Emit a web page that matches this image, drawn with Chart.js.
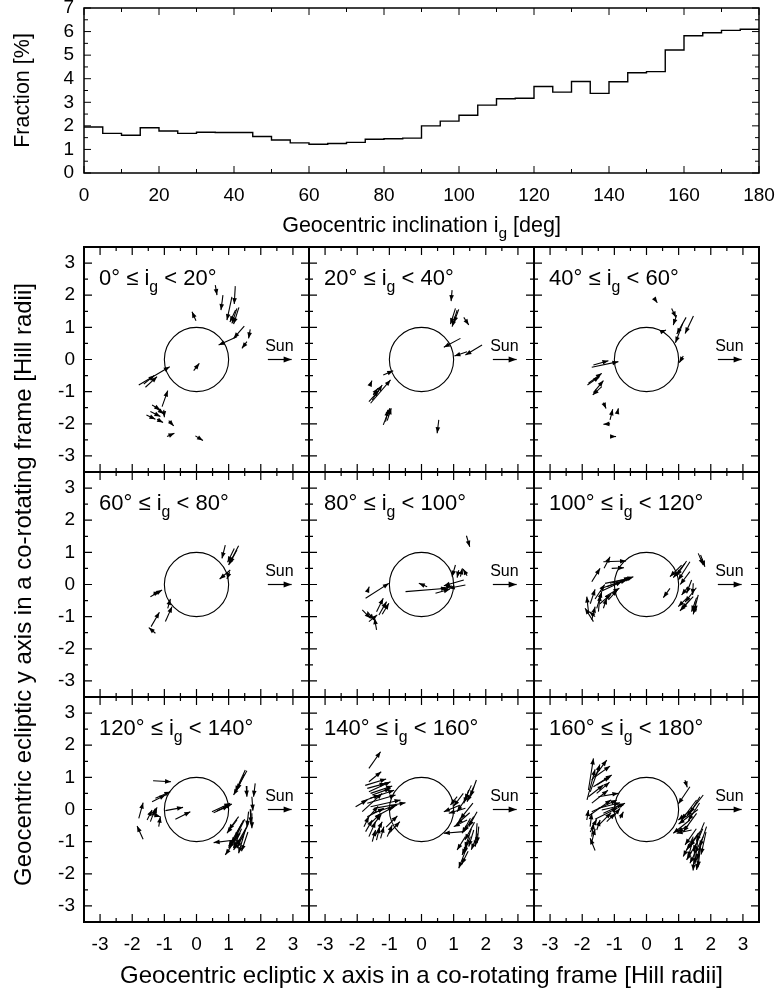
<!DOCTYPE html>
<html><head><meta charset="utf-8">
<script src="https://cdn.jsdelivr.net/npm/chart.js@4.4.1/dist/chart.umd.min.js"></script>
<style>
html,body{margin:0;padding:0;background:#fff;}
#wrap{position:relative;width:783px;height:995px;background:#fff;overflow:hidden;}
#wrap canvas{position:absolute;left:0;top:0;}
</style></head><body><div id="wrap"></div>
<script>
const FONT = '"Liberation Sans", Arial, Helvetica, sans-serif';

// ---------- top histogram ----------
const binStart = [0,5,10,15,20,25,30,35,40,45,50,55,60,65,70,75,80,85,90,95,100,105,110,115,120,125,130,135,140,145,150,155,160,165,170,175];
const binEnd = 180;
const fractionPct = [1.95,1.68,1.60,1.92,1.78,1.68,1.73,1.72,1.72,1.55,1.40,1.28,1.22,1.25,1.30,1.43,1.45,1.48,2.00,2.20,2.45,2.88,3.15,3.17,3.67,3.43,3.88,3.38,3.87,4.25,4.30,5.22,5.82,5.95,6.05,6.10];
const inclTicks = [0,20,40,60,80,100,120,140,160,180];
const inclMinor = [10,30,50,70,90,110,130,150,170];
const fracTicks = [0,1,2,3,4,5,6,7];
const fracMinor = [0.5,1.5,2.5,3.5,4.5,5.5,6.5];

// ---------- 3x3 panels ----------
const hillTicks = [-3,-2,-1,0,1,2,3];
const hillMinor = [-2.5,-1.5,-0.5,0.5,1.5,2.5];
const panelRanges = [[0,20],[20,40],[40,60],[60,80],[80,100],[100,120],[120,140],[140,160],[160,180]];
const sunArrow = [2.22,0,2.96,0];
// arrows: [x_tail, y_tail, x_head, y_head] in Hill radii
const arrows0to20 = [[0.585,2.314,0.637,2.003],[1.206,2.283,1.175,1.724],[0.823,2.003,0.761,1.537],[1.102,1.951,0.947,1.227],[1.258,1.589,1.102,1.123],[1.320,1.620,1.154,1.102],[1.216,1.537,1.040,1.165],[-0.016,1.206,-0.140,1.486],[1.486,1.040,1.154,0.657],[1.672,0.937,1.620,0.657],[1.568,0.554,1.413,0.347],[1.258,0.709,0.688,0.450],[-0.088,-0.347,0.088,-0.119],[-1.796,-0.792,-0.833,-0.223],[-1.589,-0.864,-1.227,-0.533],[-1.641,-0.761,-1.309,-0.492],[-1.071,-1.465,-0.895,-0.968],[-1.382,-1.413,-1.123,-1.568],[-1.558,-1.724,-1.278,-1.858],[-1.434,-1.620,-1.123,-1.775],[-1.227,-1.858,-1.040,-1.962],[-1.309,-1.465,-1.019,-1.693],[-0.864,-1.900,-0.709,-2.065],[-1.019,-1.568,-0.999,-1.796],[-0.916,-2.397,-0.688,-2.293],[-0.036,-2.376,0.202,-2.521]];
const arrows20to40 = [[0.952,2.159,0.921,1.817],[1.108,1.537,0.952,1.020],[1.056,1.589,0.901,1.102],[1.159,1.558,1.004,1.144],[1.315,1.310,1.470,1.071],[1.211,0.657,0.694,0.378],[1.884,0.450,1.366,0.140],[1.418,0.243,1.025,0.109],[-1.190,-0.481,-0.880,-0.347],[-1.584,-0.761,-1.542,-0.657],[-1.584,-1.361,-0.963,-0.637],[-1.532,-1.258,-1.222,-0.792],[-1.636,-1.310,-1.325,-0.968],[-1.501,-1.102,-1.356,-0.895],[-1.190,-2.034,-0.983,-1.517],[-1.118,-1.930,-1.046,-1.568],[-1.066,-1.900,-0.942,-1.517],[0.538,-1.879,0.487,-2.293]];
const arrows40to60 = [[0.264,1.869,0.336,1.765],[0.782,1.589,0.916,1.310],[0.937,1.382,0.833,1.071],[1.232,1.310,0.942,0.792],[1.460,1.351,1.201,0.812],[1.128,1.123,0.900,0.523],[0.471,0.864,0.606,0.916],[1.144,0.109,1.020,-0.098],[-1.703,-0.243,-0.875,-0.067],[-1.651,-0.171,-1.185,-0.036],[-1.806,-0.740,-1.392,-0.430],[-1.837,-0.792,-1.465,-0.533],[-1.651,-1.030,-1.340,-0.657],[-1.392,-0.844,-1.672,-1.102],[-1.340,-1.341,-1.258,-1.527],[-1.134,-1.879,-1.051,-1.548],[-0.906,-1.651,-0.875,-1.517],[-1.134,-2.003,-1.341,-2.013],[-1.082,-2.397,-0.947,-2.397]];
const arrows60to80 = [[0.895,1.227,0.792,0.812],[1.310,1.206,0.999,0.605],[1.258,1.071,1.030,0.657],[1.175,1.123,0.968,0.689],[1.051,0.450,0.720,0.171],[1.030,0.399,0.947,0.171],[-1.434,-0.378,-1.071,-0.171],[-1.351,-0.305,-1.144,-0.223],[-0.895,-0.740,-0.812,-0.450],[-0.968,-1.154,-0.761,-0.688],[-1.413,-1.310,-1.154,-0.864],[-1.278,-1.517,-1.485,-1.341]];
const arrows80to100 = [[1.398,1.517,1.501,1.175],[1.056,0.606,0.952,0.243],[1.159,0.450,1.108,0.212],[1.211,0.243,1.273,0.502],[1.418,0.274,1.294,0.481],[-0.497,-0.223,0.797,-0.119],[0.176,-0.067,-0.083,0.036],[0.435,-0.274,0.880,-0.150],[0.590,-0.119,0.952,-0.047],[1.315,0.140,0.694,-0.036],[1.366,-0.016,0.849,-0.119],[-1.739,-0.430,-1.015,0.036],[-1.687,-0.223,-1.625,-0.067],[-1.398,-0.844,-1.190,-0.430],[-1.325,-0.947,-1.087,-0.533],[-1.222,-0.926,-1.015,-0.585],[-1.843,-0.792,-1.584,-1.051],[-1.687,-0.844,-1.480,-1.102],[-1.398,-1.413,-1.460,-1.051],[-1.636,-1.154,-1.377,-0.947]];
const arrows100to120 = [[1.610,0.968,1.765,0.606],[1.682,0.916,1.817,0.554],[1.247,0.730,0.937,0.274],[1.196,0.657,0.833,0.212],[1.351,0.709,0.989,0.140],[1.092,0.606,0.730,0.243],[0.730,-0.119,0.523,-0.409],[1.403,0.140,1.247,-0.274],[1.299,-0.067,1.092,-0.326],[1.454,0.036,1.434,-0.326],[1.247,-0.430,0.989,-0.688],[1.454,-0.378,1.092,-0.761],[1.351,-0.481,1.040,-0.823],[1.610,-0.326,1.454,-0.926],[1.558,-0.409,1.403,-0.844],[1.506,-0.533,1.537,-0.844],[-1.341,0.709,-0.637,0.730],[-1.320,0.502,-1.134,0.864],[-1.082,0.502,-0.699,0.523],[-1.703,0.088,-1.444,0.502],[-1.392,-0.119,-0.409,0.243],[-1.289,0.036,-0.512,0.192],[-1.237,-0.067,-0.616,0.140],[-1.444,-0.223,-0.771,0.088],[-1.134,0.036,-0.461,0.212],[-1.289,-0.378,-0.844,-0.119],[-1.185,-0.481,-0.906,-0.171],[-1.341,-0.740,-1.237,-0.430],[-1.806,-0.844,-1.858,-0.378],[-1.651,-1.154,-1.910,-0.740],[-1.599,-0.999,-1.775,-0.844],[-1.548,-0.740,-1.392,-0.223],[-1.496,-0.844,-1.444,-0.326],[-1.703,-1.102,-1.599,-0.689],[-1.750,-0.600,-1.600,-0.150],[-1.600,-0.450,-1.300,0.000],[-1.450,-0.600,-1.100,-0.300],[1.350,0.400,1.050,0.000],[1.550,-0.100,1.200,-0.550]];
const arrows120to140 = [[-1.351,0.896,-0.792,0.864],[-1.278,0.347,-0.813,0.554],[-1.382,0.243,-0.968,0.450],[-0.968,-0.036,-0.419,0.067],[-0.657,-0.305,-0.192,-0.067],[-1.796,-0.274,-1.661,0.212],[-1.661,-0.926,-1.848,-0.512],[-1.537,-0.326,-1.382,-0.016],[-1.434,-0.378,-1.278,0.036],[-1.330,-0.171,-1.227,0.067],[-1.175,-0.533,-1.123,-0.223],[-1.485,-0.119,-1.123,-0.223],[0.481,-0.067,1.051,0.192],[0.533,-0.098,0.999,0.109],[0.637,-0.036,1.102,0.171],[1.568,1.206,1.154,0.450],[1.517,1.227,1.206,0.554],[1.486,1.102,1.258,0.606],[1.827,0.812,1.775,0.398],[1.548,0.730,1.568,0.398],[1.723,0.398,1.755,-0.036],[1.672,0.005,1.692,-0.430],[1.620,-0.067,1.568,-0.533],[1.723,-0.119,1.723,-0.585],[1.310,-0.223,0.999,-0.637],[1.258,-0.326,0.947,-0.740],[1.465,-0.326,1.102,-1.051],[1.413,-0.430,0.999,-1.154],[1.620,-0.430,1.258,-1.206],[1.568,-0.533,1.154,-1.258],[1.361,-0.740,0.895,-1.413],[1.517,-0.637,1.310,-1.361],[1.206,-0.947,0.533,-1.030],[1.500,-0.300,1.200,-0.900],[1.400,-0.600,1.150,-1.200],[1.600,-0.700,1.400,-1.300],[1.300,-0.800,1.000,-1.200],[1.450,-0.850,1.200,-1.100]];
const arrows140to160 = [[-1.636,1.278,-1.273,1.796],[-1.636,0.864,-1.253,1.175],[-1.636,0.554,-0.963,0.864],[-1.584,0.502,-0.911,0.730],[-1.687,0.657,-1.118,0.813],[-1.532,0.450,-0.963,0.657],[-2.050,0.088,-1.687,0.295],[-1.843,-0.067,-1.222,0.502],[-1.687,0.192,-0.807,0.450],[-1.584,0.088,-0.652,0.295],[-1.480,0.036,-0.497,0.212],[-1.532,-0.119,-0.756,0.140],[-1.429,-0.223,-0.859,0.088],[-1.687,-0.223,-1.170,0.036],[-1.739,-0.689,-1.532,-0.326],[-1.636,-0.844,-1.429,-0.378],[-1.791,-0.533,-1.636,-0.223],[-1.429,-0.792,-1.222,-0.378],[-1.532,-0.999,-1.429,-0.637],[-1.273,-0.896,-1.170,-0.533],[-1.066,-0.844,-0.911,-0.481],[-1.014,-0.740,-0.673,-0.378],[-1.584,-0.430,-1.273,-0.119],[-1.750,0.750,-1.100,0.950],[-1.600,0.350,-0.850,0.600],[-1.750,-0.350,-1.350,0.100],[-1.550,-0.550,-1.250,-0.150],[-1.400,-0.950,-1.300,-0.550],[-1.100,-0.550,-0.750,-0.200],[-1.850,0.250,-1.300,0.450],[1.708,0.916,1.522,0.398],[1.625,0.709,1.418,0.243],[1.470,0.606,1.315,0.192],[1.108,0.398,0.901,0.140],[1.418,0.398,1.108,-0.067],[1.211,0.140,0.694,-0.067],[1.366,0.036,0.849,-0.119],[1.729,-0.067,1.470,-0.533],[1.625,-0.223,1.315,-0.689],[1.522,-0.274,1.263,-0.740],[1.418,-0.326,1.004,-0.533],[1.315,-0.689,0.694,-0.740],[1.625,-0.637,1.470,-1.154],[1.729,-0.430,1.677,-1.154],[1.781,-0.533,1.729,-1.051],[1.522,-0.844,1.315,-1.361],[1.470,-0.947,1.263,-1.413],[1.418,-1.154,1.159,-1.827],[1.366,-0.844,1.108,-1.258],[1.550,0.750,1.350,0.300],[1.300,0.500,1.000,0.100],[1.600,0.200,1.200,-0.300],[1.500,-0.100,1.100,-0.450],[1.650,-0.400,1.350,-0.950],[1.550,-0.600,1.350,-1.200],[1.750,-0.750,1.550,-1.250],[1.450,-1.300,1.250,-1.700]];
const arrows160to180 = [[-1.806,0.606,-1.651,1.589],[-1.703,0.916,-1.237,1.537],[-1.599,1.020,-1.134,1.351],[-1.651,0.709,-1.082,1.071],[-1.548,0.761,-1.134,1.020],[-1.806,0.398,-1.341,0.761],[-1.496,0.398,-0.875,0.502],[-1.703,-0.067,-0.926,0.295],[-1.496,0.036,-0.823,0.212],[-1.392,-0.016,-0.719,0.140],[-1.341,-0.119,-0.668,0.192],[-1.858,-0.326,-1.806,-0.016],[-1.754,-0.533,-1.703,-0.119],[-1.599,-1.278,-1.754,-0.896],[-1.703,-0.844,-1.651,-0.430],[-1.548,-0.637,-1.444,-0.326],[-1.030,-0.223,-0.823,0.036],[-0.823,-0.274,-0.719,-0.067],[-1.237,-0.378,-0.978,-0.119],[-1.850,0.300,-1.600,1.250],[-1.750,0.550,-1.450,1.400],[-1.550,0.500,-1.150,0.850],[-1.700,0.200,-1.200,0.600],[-1.800,-0.200,-1.100,0.300],[-1.600,-0.300,-0.900,0.050],[-1.500,-0.500,-1.100,-0.100],[-1.750,-0.700,-1.550,-0.300],[-1.700,-1.000,-1.600,-0.600],[1.351,0.709,0.989,0.171],[1.196,0.916,1.268,0.689],[1.765,0.450,1.247,-0.223],[1.661,0.398,1.351,-0.119],[1.558,0.295,1.092,-0.326],[1.454,0.036,0.989,-0.326],[1.351,-0.326,0.833,-0.740],[1.558,-0.119,1.144,-0.689],[1.403,-0.637,0.937,-0.740],[1.661,-0.689,1.351,-1.154],[1.610,-0.740,1.247,-1.258],[1.454,-0.844,1.144,-1.465],[1.765,-0.844,1.506,-1.361],[1.868,-0.533,1.661,-1.154],[1.558,-1.051,1.247,-1.568],[1.713,-0.947,1.558,-1.568],[1.661,-1.154,1.558,-1.879],[1.506,-1.361,1.351,-1.672],[1.800,-0.400,1.550,-1.000],[1.750,-0.600,1.450,-1.300],[1.600,-0.900,1.500,-1.700],[1.700,-1.000,1.600,-1.800],[1.450,-0.900,1.300,-1.500],[1.550,-0.600,1.200,-1.100],[1.850,-0.700,1.700,-1.400],[1.500,-1.200,1.450,-1.900],[1.650,0.200,1.300,-0.350],[1.600,0.000,1.000,-0.450],[1.300,-0.500,0.950,-0.700]];
const panelArrows = [arrows0to20,arrows20to40,arrows40to60,arrows60to80,arrows80to100,arrows100to120,arrows120to140,arrows140to160,arrows160to180];

// ---------- layout ----------
const W = 783, H = 995;
const topBox = {l:84, r:759, t:8, b:173};
const colL = [84,309,534], colW = 225;
const rowT = [247,472,697], rowH = 225;
const AX = 40;
const TICKFONT = 19;

const wrap = document.getElementById('wrap');
function newCanvas(){const c=document.createElement('canvas');c.width=W;c.height=H;c.style.width=W+'px';c.style.height=H+'px';wrap.appendChild(c);return c;}

function axis(pos,min,max,values,show,pad){
  return {
    type:'linear', position:pos, min:min, max:max,
    grid:{display:false, drawTicks:false}, border:{display:false},
    ticks:{display:show, color:'#000', font:{family:FONT,size:TICKFONT}, padding:pad, maxRotation:0, autoSkip:false, callback:v=>String(v)},
    afterBuildTicks:s=>{ s.ticks = values.map(v=>({value:v})); },
    afterFit:s=>{ if(pos==='left') s.width=AX; else s.height=AX; s.paddingLeft=0; s.paddingRight=0; s.paddingTop=0; s.paddingBottom=0; }
  };
}

function drawRich(ctx, parts, x, y, size, align){
  const sub = size*0.72;
  let w = 0;
  parts.forEach(p=>{ ctx.font = (p[1]?sub:size)+'px '+FONT; w += ctx.measureText(p[0]).width; });
  let cx = align==='center' ? x - w/2 : (align==='right' ? x - w : x);
  ctx.textAlign='left'; ctx.textBaseline='alphabetic';
  parts.forEach(p=>{ ctx.font=(p[1]?sub:size)+'px '+FONT; ctx.fillText(p[0], cx, y + (p[1]? size*0.3:0)); cx += ctx.measureText(p[0]).width; });
}

function arrowHead(ctx,x0,y0,x1,y1,len,hw){
  const dx=x1-x0, dy=y1-y0, L=Math.hypot(dx,dy); if(L<0.01) return;
  const ux=dx/L, uy=dy/L;
  const bx=x1-ux*len, by=y1-uy*len;
  ctx.beginPath(); ctx.moveTo(x1,y1); ctx.lineTo(bx-uy*hw, by+ux*hw); ctx.lineTo(bx+uy*hw, by-ux*hw); ctx.closePath(); ctx.fill();
}

const deco = {
  id:'deco',
  afterDatasetsDraw(chart, args, o){
    const ctx=chart.ctx, a=chart.chartArea, xs=chart.scales.x, ys=chart.scales.y;
    ctx.save();
    ctx.strokeStyle='#000'; ctx.fillStyle='#000';
    if(o.circle){
      const cx=xs.getPixelForValue(0), cy=ys.getPixelForValue(0);
      const rx=xs.getPixelForValue(o.circle)-cx, ry=cy-ys.getPixelForValue(o.circle);
      ctx.beginPath(); ctx.ellipse(cx,cy,rx,ry,0,0,2*Math.PI); ctx.lineWidth=1.1; ctx.stroke();
    }
    chart.data.datasets.forEach((ds,i)=>{
      if(!ds.head) return;
      const m=chart.getDatasetMeta(i); const p0=m.data[0], p1=m.data[1];
      arrowHead(ctx,p0.x,p0.y,p1.x,p1.y,ds.head[0],ds.head[1]);
    });
    ctx.lineWidth=o.frameWidth;
    ctx.strokeRect(a.left,a.top,a.right-a.left,a.bottom-a.top);
    ctx.lineWidth=o.tickWidth;
    const tk=(vals,len)=>{
      vals.x.forEach(v=>{const px=xs.getPixelForValue(v); ctx.beginPath(); ctx.moveTo(px,a.bottom); ctx.lineTo(px,a.bottom-len); ctx.moveTo(px,a.top); ctx.lineTo(px,a.top+len); ctx.stroke();});
      vals.y.forEach(v=>{const py=ys.getPixelForValue(v); ctx.beginPath(); ctx.moveTo(a.left,py); ctx.lineTo(a.left+len,py); ctx.moveTo(a.right,py); ctx.lineTo(a.right-len,py); ctx.stroke();});
    };
    tk(o.major,o.majorLen); tk(o.minor,o.minorLen);
    (o.texts||[]).forEach(t=>{
      let x=t.x, y=t.y;
      if(t.data){ x=xs.getPixelForValue(t.x); y=ys.getPixelForValue(t.y); }
      ctx.save(); ctx.translate(x,y); if(t.rot) ctx.rotate(t.rot);
      drawRich(ctx,t.parts,0,0,t.size,t.align);
      ctx.restore();
    });
    ctx.restore();
  }
};

function mkChart(box, datasets, xOpt, yOpt, decoOpt){
  new Chart(newCanvas(), {
    type:'scatter',
    data:{datasets:datasets},
    options:{
      responsive:false, animation:false, devicePixelRatio:1,
      layout:{padding:{left:box.l-AX, right:W-box.r, top:box.t, bottom:H-box.b-AX}},
      plugins:{legend:{display:false}, tooltip:{enabled:false}, deco:decoOpt},
      scales:{x:xOpt, y:yOpt},
      elements:{point:{radius:0}}
    },
    plugins:[deco]
  });
}

// ---- top histogram ----
const histData = binStart.map((b,i)=>({x:b, y:fractionPct[i]}));
histData.push({x:binEnd, y:fractionPct[fractionPct.length-1]});
mkChart(topBox,
  [{data:histData, showLine:true, stepped:'before', borderColor:'#000', borderWidth:1.4, pointRadius:0, fill:false}],
  axis('bottom',0,180,inclTicks,true,11),
  axis('left',0,7,fracTicks,true,10),
  {frameWidth:1.5, tickWidth:1, majorLen:7, minorLen:4,
   major:{x:inclTicks, y:fracTicks}, minor:{x:inclMinor, y:fracMinor},
   texts:[
     {parts:[['Geocentric inclination i',0],['g',1],[' [deg]',0]], x:421.5, y:232, size:21.5, align:'center'},
     {parts:[['Fraction [%]',0]], x:29, y:90.5, size:21.5, align:'center', rot:-Math.PI/2}
   ]});

// ---- 3x3 panels ----
panelRanges.forEach((rg,k)=>{
  const r=Math.floor(k/3), c=k%3;
  const box={l:colL[c], r:colL[c]+colW, t:rowT[r], b:rowT[r]+rowH};
  const ds = panelArrows[k].map(a=>({data:[{x:a[0],y:a[1]},{x:a[2],y:a[3]}], showLine:true, borderColor:'#000', borderWidth:1.1, pointRadius:0, head:[6,2.3]}));
  ds.push({data:[{x:sunArrow[0],y:sunArrow[1]},{x:sunArrow[2],y:sunArrow[3]}], showLine:true, borderColor:'#000', borderWidth:1.2, pointRadius:0, head:[8,3]});
  const texts=[
    {parts:[[rg[0]+'° ≤ i',0],['g',1],[' < '+rg[1]+'°',0]], x:-3.03, y:2.31, data:true, size:22, align:'left'},
    {parts:[['Sun',0]], x:2.58, y:0.25, data:true, size:16, align:'center'}
  ];
  if(k===3) texts.push({parts:[['Geocentric ecliptic y axis in a co-rotating frame [Hill radii]',0]], x:31, y:584.5, size:24, align:'center', rot:-Math.PI/2});
  if(k===7) texts.push({parts:[['Geocentric ecliptic x axis in a co-rotating frame [Hill radii]',0]], x:421.5, y:983, size:24, align:'center'});
  mkChart(box, ds,
    axis('bottom',-3.5,3.5,hillTicks,r===2,11),
    axis('left',-3.5,3.5,hillTicks,c===0,9),
    {frameWidth:2, tickWidth:1.2, majorLen:8, minorLen:4, circle:1,
     major:{x:hillTicks,y:hillTicks}, minor:{x:hillMinor,y:hillMinor}, texts:texts});
});
</script>
</body></html>
